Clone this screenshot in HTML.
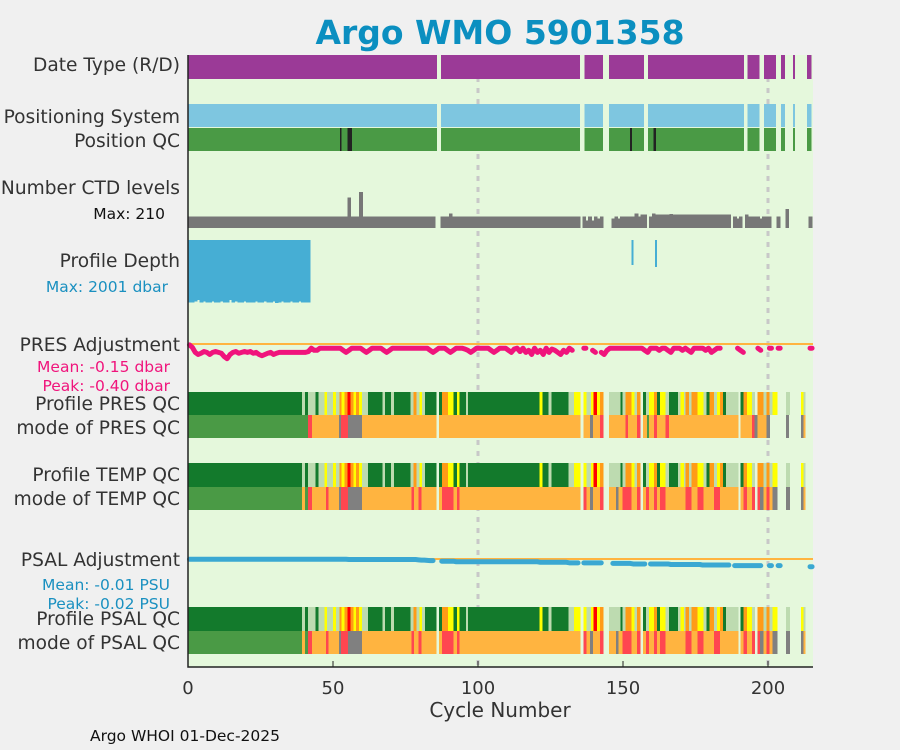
<!DOCTYPE html>
<html><head><meta charset="utf-8"><style>
body{margin:0;background:#f0f0f0;}
svg{display:block;font-family:"DejaVu Sans","Liberation Sans",sans-serif;}
</style></head><body>
<svg id="c" width="900" height="750">
<rect x="0" y="0" width="900" height="750" fill="#f0f0f0"/>
<rect x="188" y="55" width="625" height="612" fill="#e5f8dc"/>
<g id="marks" shape-rendering="crispEdges"></g>
<g fill="#333" font-size="18.6" text-anchor="end">
<text x="180" y="71">Date Type (R/D)</text>
<text x="180" y="123">Positioning System</text>
<text x="180" y="147">Position QC</text>
<text x="180" y="194">Number CTD levels</text>
<text x="165" y="219" font-size="15.5" fill="#111">Max: 210</text>
<text x="180" y="267">Profile Depth</text>
<text x="168" y="292" font-size="15.5" fill="#1a90c0">Max: 2001 dbar</text>
<text x="180" y="351">PRES Adjustment</text>
<text x="170" y="372" font-size="15.5" fill="#f0147c">Mean: -0.15 dbar</text>
<text x="170" y="391" font-size="15.5" fill="#f0147c">Peak: -0.40 dbar</text>
<text x="180" y="410">Profile PRES QC</text>
<text x="180" y="434">mode of PRES QC</text>
<text x="180" y="481">Profile TEMP QC</text>
<text x="180" y="505">mode of TEMP QC</text>
<text x="180" y="566">PSAL Adjustment</text>
<text x="170" y="590" font-size="15.5" fill="#1a90c0">Mean: -0.01 PSU</text>
<text x="170" y="609" font-size="15.5" fill="#1a90c0">Peak: -0.02 PSU</text>
<text x="180" y="625">Profile PSAL QC</text>
<text x="180" y="649">mode of PSAL QC</text>
</g>
<text x="500" y="44" font-size="33" font-weight="bold" fill="#0b8fc0" text-anchor="middle">Argo WMO 5901358</text>
<text x="500" y="717" font-size="20" fill="#333" text-anchor="middle">Cycle Number</text>
<text x="90" y="741" font-size="15.5" fill="#111">Argo WHOI 01-Dec-2025</text>
<g id="axis"></g>
</svg>
<script>
const xTicks=[0,50,100,150,200];
const dateGaps=[[85.8,87.2],[135.2,136.8],[143.1,145.2],[157.2,158.6],[191.7,193],[197,198.6],[202.7,204.5],[205.9,208.6],[209.3,213.4]];
const posQcBlack=[[52.4,53],[55,56.5],[152.4,153.1],[160.6,161.3]];
const G='#137a2c',L='#bddbb0',Y='#ffff00',O='#ff9b17',R='#ff0000',M='#4a9a45',A='#ffb440',P='#ff4650',S='#808080';
const qcTop=[[0,39.3,G],[39.3,40.3,L],[40.3,41.3,G],[41.3,44,L],[44,45,G],[45,47,L],[47,48,Y],[48,50,L],[50,51,Y],[51,52.2,L],[52.2,53,O],[53,54,Y],[54,55,O],[55,56,R],[56,57,O],[57,58,Y],[58,59,O],[59,60,Y],[60,62,L],[62,67,G],[67,68,L],[68,70,G],[70,71,L],[71,76.7,G],[76.7,77.7,L],[77.7,78.8,O],[78.8,79.8,L],[79.8,80.7,Y],[80.7,81.8,L],[81.8,85.4,G],[86.6,87.6,G],[87.6,89.6,O],[89.6,91.6,Y],[91.6,92.7,G],[92.7,93.7,Y],[93.7,95.8,G],[95.8,96.5,L],[96.5,121.2,G],[121.2,122.2,Y],[122.2,124.3,G],[124.3,125.3,L],[125.3,131.2,G],[131.2,133.1,L],[133.1,135.2,Y],[136.3,137.4,Y],[137.4,138.9,L],[138.9,139.9,Y],[139.9,141,R],[141,142,Y],[142,143,O],[145.1,149.1,L],[149.1,149.8,G],[149.8,150.8,L],[150.8,152.9,O],[152.9,153.9,Y],[153.9,154.9,L],[154.9,155.9,O],[156.9,158,G],[158,159,L],[159,160.7,Y],[160.7,161.7,O],[161.7,162.7,G],[162.7,164.7,Y],[164.7,165.8,L],[165.8,168.9,G],[168.9,169.9,L],[169.9,171,Y],[171,171.6,L],[171.6,172.7,O],[172.7,173.7,L],[173.7,175.7,O],[175.7,177.7,Y],[177.7,178.8,L],[178.8,179.8,G],[179.8,181.4,O],[181.4,182.4,L],[182.4,183.5,Y],[183.5,184.5,O],[184.5,185.5,G],[185.5,189.6,L],[190.6,191.6,G],[191.6,192.7,O],[192.7,194.4,Y],[194.4,195.3,L],[196.3,198.4,O],[198.4,199.4,L],[199.4,200.5,O],[200.5,201.5,L],[201.5,203.1,Y],[206.2,207.3,L],[211.3,212.3,Y],[212.3,212.8,L]];
const presMode=[[0,41.3,M],[41.3,42.8,P],[42.8,52,A],[52,52.8,S],[52.8,55.2,P],[55.2,60,S],[60,85.4,A],[86.6,135.2,A],[136.3,138.6,A],[138.6,139.7,S],[139.7,142,A],[142,143,P],[145.1,150.8,A],[150.8,151.7,P],[151.7,154.8,A],[154.8,155.9,P],[156.9,158.3,A],[158.3,159,M],[159,160.7,A],[160.7,161.7,P],[161.7,164.7,A],[164.7,165.8,P],[165.8,189.6,A],[190.6,194.4,A],[194.4,195.3,P],[195.3,196.3,S],[196.3,199.4,A],[199.4,200.5,S],[206.2,207,S],[211.3,212,S],[212.3,212.8,A]];
const tempMode=[[0,39.3,M],[39.3,40.3,A],[40.3,41.3,M],[41.3,42.8,P],[42.8,47.5,A],[47.5,48.5,P],[48.5,52,A],[52,52.8,S],[52.8,55.2,P],[55.2,60,S],[60,77,A],[77,78,P],[78,79.5,A],[79.5,80.5,P],[80.5,85.4,A],[86.6,87.6,A],[87.6,91.6,P],[91.6,92.7,A],[92.7,93.7,P],[93.7,135.2,A],[136.3,137.4,P],[137.4,138.6,A],[138.6,139.7,S],[139.7,142,A],[142,143,P],[145.1,147.5,A],[147.5,148.5,S],[148.5,149.8,A],[149.8,152.9,P],[152.9,154.9,A],[154.9,155.9,P],[156.9,158,A],[158,159,P],[159,160.7,A],[160.7,161.7,P],[161.7,162.7,A],[162.7,164.7,P],[164.7,171.6,A],[171.6,173.7,P],[173.7,175.7,A],[175.7,177.7,P],[177.7,181.4,A],[181.4,183.5,P],[183.5,189.6,A],[190.6,191.6,A],[191.6,192.7,P],[192.7,194.4,A],[194.4,195.3,P],[196.3,197.3,P],[197.3,198.4,S],[198.4,199.4,A],[199.4,200.5,P],[200.5,201.5,A],[201.5,203.1,S],[206.2,207.3,S],[211.3,212.3,S],[212.3,212.8,A]];
const ctdLevels=[60,60,60,60,60,60,60,60,60,60, 60,60,60,60,60,60,60,60,60,60, 60,60,60,60,60,60,60,60,60,60, 60,60,60,60,60,60,60,60,60,60, 60,60,60,60,60,60,60,60,60,60, 60,60,60,60,60,160,60,60,60,190, 60,60,60,60,60,60,60,60,60,60, 60,60,60,60,60,60,60,60,60,60, 60,60,60,60,60,null,null,60,60,60, 75,60,60,60,60,60,60,60,60,60, 60,60,60,60,60,60,60,60,60,60, 60,60,60,60,60,60,60,60,60,60, 60,60,60,60,60,60,60,60,60,60, 60,60,60,60,60,null,60,40,60,40, 60,50,60,null,null,null,50,60,50,60, 60,60,60,60,75,60,70,70,null,60, 75,72,72,70,70,72,74,72,70,72, 70,72,72,70,72,70,72,72,70,70, 72,72,70,70,72,70,72,null,60,50, 60,null,72,60,60,60,60,50,60,60, 60,null,null,60,null,null,100,null,null,null, null,null,null,null,60];
const depthCycles=[0,1,2,3,4,5,6,7,8,9,10,11,12,13,14,15,16,17,18,19,20,21,22,23,24,25,26,27,28,29,30,31,32,33,34,35,36,37,38,39,40,41,153,161];
const depthValues=[1990,1990,1950,1900,1990,1950,1990,1990,1950,1990,1990,1950,1990,1990,1900,1990,1950,1990,1990,1950,1990,1990,1990,1950,1990,1990,1950,1990,1990,1950,2001,1990,1950,1990,1990,1950,1990,1990,1950,1990,1990,1990,800,850];
const presAdj=[-0.02,-0.08,-0.2,-0.25,-0.22,-0.18,-0.2,-0.25,-0.2,-0.18, -0.2,-0.22,-0.3,-0.35,-0.25,-0.2,-0.18,-0.22,-0.2,-0.18, -0.2,-0.18,-0.22,-0.2,-0.25,-0.28,-0.25,-0.22,-0.2,-0.25, -0.22,-0.2,-0.2,-0.2,-0.2,-0.2,-0.2,-0.2,-0.2,-0.2, -0.2,-0.18,-0.1,-0.15,-0.15,-0.1,-0.1,-0.1,-0.1,-0.1, -0.1,-0.1,-0.1,-0.15,-0.2,-0.15,-0.1,-0.1,-0.1,-0.1, -0.15,-0.2,-0.15,-0.1,-0.1,-0.1,-0.1,-0.15,-0.2,-0.15, -0.1,-0.1,-0.1,-0.1,-0.1,-0.1,-0.1,-0.1,-0.1,-0.1, -0.1,-0.1,-0.1,-0.15,-0.2,-0.15,-0.1,-0.1,-0.1,-0.15, -0.2,-0.15,-0.1,-0.1,-0.1,-0.12,-0.15,-0.2,-0.15,-0.1, -0.1,-0.1,-0.1,-0.1,-0.15,-0.2,-0.15,-0.1,-0.1,-0.1, -0.15,-0.2,-0.12,-0.1,-0.18,-0.1,-0.2,-0.15,-0.25,-0.1, -0.2,-0.15,-0.25,-0.1,-0.2,-0.12,-0.15,-0.2,-0.25,-0.15, -0.2,-0.1,-0.15,null,null,null,-0.1,null,null,-0.15, -0.2,null,-0.2,-0.25,-0.15,-0.1,-0.1,-0.1,-0.1,-0.1, -0.1,-0.1,-0.1,-0.1,-0.1,-0.1,-0.1,-0.15,-0.2,-0.1, -0.1,-0.1,-0.15,-0.1,-0.1,-0.15,-0.2,-0.1,-0.1,-0.1, -0.15,-0.1,-0.15,-0.2,-0.1,-0.1,-0.1,-0.1,-0.15,-0.1, -0.2,-0.15,-0.1,-0.1,null,null,null,null,null,-0.1, -0.15,-0.2,null,null,null,null,-0.1,-0.15,null,null, -0.1,null,null,-0.1,null,null,null,null,null,null, null,null,null,null,-0.1];
const psalAdj=[-0.0005,-0.0005,-0.0005,-0.0005,-0.0005,-0.0005,-0.0005,-0.0005,-0.0005,-0.0005, -0.0005,-0.0005,-0.0005,-0.0005,-0.0005,-0.0005,-0.0005,-0.0005,-0.0005,-0.0005, -0.0005,-0.0005,-0.0005,-0.0005,-0.0005,-0.0005,-0.0005,-0.0005,-0.0005,-0.0005, -0.0005,-0.0005,-0.0005,-0.0005,-0.0005,-0.0005,-0.0005,-0.0005,-0.0005,-0.0005, -0.0005,-0.0005,-0.0005,-0.0005,-0.0005,-0.0005,-0.0005,-0.0005,-0.0005,-0.0005, -0.0005,-0.0005,-0.0005,-0.0005,-0.0005,-0.001,-0.001,-0.001,-0.001,-0.001, -0.001,-0.001,-0.001,-0.001,-0.001,-0.001,-0.001,-0.001,-0.001,-0.001, -0.001,-0.001,-0.001,-0.001,-0.001,-0.001,-0.001,-0.001,-0.001,-0.0015, -0.002,-0.002,-0.0025,-0.003,-0.003,null,null,-0.004,-0.004,-0.004, -0.004,-0.004,-0.005,-0.005,-0.005,-0.005,-0.005,-0.005,-0.005,-0.005, -0.005,-0.005,-0.005,-0.005,-0.005,-0.005,-0.005,-0.005,-0.005,-0.005, -0.005,-0.005,-0.005,-0.005,-0.005,-0.005,-0.005,-0.005,-0.005,-0.005, -0.005,-0.006,-0.006,-0.006,-0.006,-0.006,-0.006,-0.006,-0.006,-0.006, -0.006,-0.007,-0.007,-0.007,-0.007,null,-0.007,-0.007,-0.007,-0.007, -0.007,-0.007,-0.007,null,null,null,-0.008,-0.008,-0.008,-0.008, -0.008,-0.008,-0.008,-0.009,-0.009,-0.009,-0.009,-0.009,null,-0.009, -0.009,-0.009,-0.009,-0.009,-0.009,-0.009,-0.01,-0.01,-0.01,-0.01, -0.01,-0.01,-0.01,-0.01,-0.01,-0.01,-0.01,-0.011,-0.011,-0.011, -0.011,-0.011,-0.011,-0.011,-0.011,-0.011,-0.011,null,-0.012,-0.012, -0.012,-0.012,-0.012,-0.012,-0.012,-0.012,-0.012,-0.012,null,null, -0.012,null,null,-0.012,null,null,null,null,null,null, null,null,null,null,-0.014];

const NS='http://www.w3.org/2000/svg';
const marks=document.getElementById('marks'),axis=document.getElementById('axis');
const X0=188,XS=2.9;
function x(c){return X0+c*XS;}
function el(tag,attrs,parent){const e=document.createElementNS(NS,tag);for(const k in attrs)e.setAttribute(k,attrs[k]);(parent||marks).appendChild(e);return e;}
function gappedBar(y,h,color,name){
  let pts=[0];dateGaps.forEach(g=>{pts.push(g[0]);pts.push(g[1]);});pts.push(215);
  for(let i=0;i<pts.length;i+=2){const r=el('rect',{x:x(pts[i]),y:y,width:x(pts[i+1])-x(pts[i]),height:h,fill:color});
    
    }
}
function segRow(segs,y,h,name){segs.forEach(s=>{const r=el('rect',{x:x(s[0]),y:y,width:x(s[1])-x(s[0])+0.6,height:h,fill:s[2]});
  
  });}
[100,200].forEach(c=>{const l=el('line',{x1:x(c),y1:55,x2:x(c),y2:667,stroke:'#c8c8c8','stroke-width':3,'stroke-dasharray':'5,6'});
  
  });
gappedBar(55,24,'#9b3a97','date-type-bar');
gappedBar(104,23,'#7ec6e0','positioning-system-bar');
gappedBar(128,23,'#4a9a45','position-qc-bar');
posQcBlack.forEach(s=>{const r=el('rect',{x:x(s[0]),y:128,width:x(s[1])-x(s[0]),height:23,fill:'#222'});
  
  });
ctdLevels.forEach((v,i)=>{if(v==null)return;const h=v/210*40;const r=el('rect',{x:x(i),y:228-h,width:XS+0.8,height:h,fill:'#777'});
  
  });
depthCycles.forEach((c,i)=>{const h=depthValues[i]/2001*63;const w=i<42?XS+0.8:2;const r=el('rect',{x:x(c),y:240,width:w,height:h,fill:'#46aed4'});
  
  });
function adjLine(vals,y0,scale,color,zeroName,name){
  const z=el('line',{x1:188,y1:y0,x2:813,y2:y0,stroke:'#ffb440','stroke-width':2});
  
  
  let seg=[];const flush=()=>{if(seg.length){const d=seg.length===1?[seg[0],[seg[0][0]+2,seg[0][1]]]:seg;
      const p=el('polyline',{points:d.map(q=>q.join(',')).join(' '),fill:'none',stroke:color,'stroke-width':5,'stroke-linejoin':'round','stroke-linecap':'round','shape-rendering':'auto'});
      
      }seg=[];};
  vals.forEach((v,i)=>{if(v==null){flush();return;}seg.push([x(i+0.5),y0-v*scale]);});flush();
}
adjLine(presAdj,344,42,'#f0147c','pres-adjustment-zero','pres-adjustment-line');
adjLine(psalAdj,559,550,'#3aa8d2','psal-adjustment-zero','psal-adjustment-line');
segRow(qcTop,392,23,'pres-qc-cell');segRow(presMode,415,23,'pres-mode-cell');
segRow(qcTop,463,24,'temp-qc-cell');segRow(tempMode,487,23,'temp-mode-cell');
segRow(qcTop,607,24,'psal-qc-cell');segRow(tempMode,631,23,'psal-mode-cell');
const ax=el('path',{d:'M188,55 V667 H813',fill:'none',stroke:'#222','stroke-width':1.5},axis);


xTicks.forEach(t=>{const tk=el('line',{x1:x(t),y1:667,x2:x(t),y2:661,stroke:'#222'},axis);
  
  
  const tx=el('text',{x:x(t),y:694,'font-size':18,fill:'#333','text-anchor':'middle'},axis);tx.textContent=t;
  
  });
</script>
</body></html>
